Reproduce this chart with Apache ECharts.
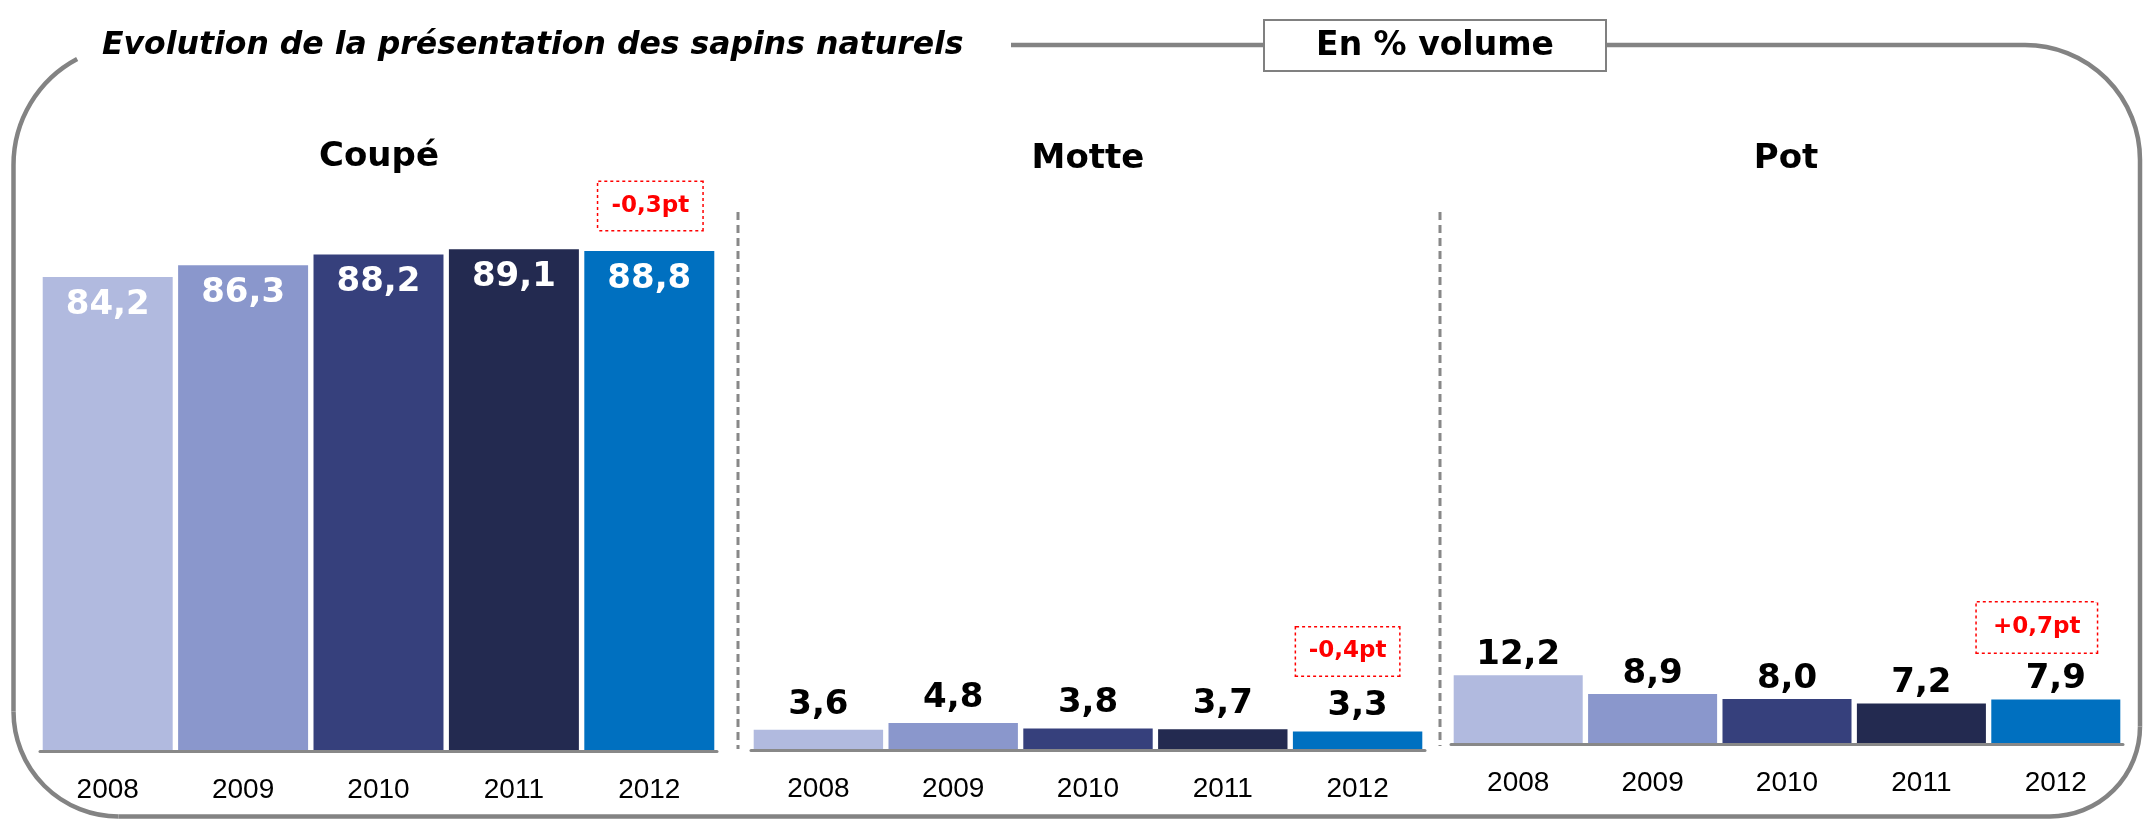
<!DOCTYPE html>
<html><head><meta charset="utf-8">
<script src="https://cdn.jsdelivr.net/npm/echarts@6/dist/echarts.min.js"></script>
<style>html,body{margin:0;padding:0;background:#fff}#c{width:2143px;height:820px}</style>
</head><body><div id="c"></div>
<script>
const years = ['2008', '2009', '2010', '2011', '2012'];
const coupe = [84.2, 86.3, 88.2, 89.1, 88.8];
const motte = [3.6, 4.8, 3.8, 3.7, 3.3];
const pot = [12.2, 8.9, 8.0, 7.2, 7.9];
const panelTitles = ['Coupé', 'Motte', 'Pot'];
const deltas = ['-0,3pt', '-0,4pt', '+0,7pt'];
const mainTitle = 'Evolution de la présentation des sapins naturels';
const unitLabel = 'En % volume';

const yearColors = ['#B1BADF', '#8A97CC', '#36407C', '#232A50', '#0070C0'];
const fmt = v => v.toFixed(1).replace('.', ',');
const FONT = 'DejaVu Sans';

const chart = echarts.init(document.getElementById('c'), null, {renderer: 'canvas'});

const seriesData = [coupe, motte, pot];
const grids = [
  {left: 40, width: 677, top: 188, height: 563},
  {left: 751, width: 674, top: 187, height: 563},
  {left: 1451, width: 672, top: 181, height: 563}
];
const titlePos = [[379, 157], [1088, 159], [1786, 159]];
const labelStyles = [
  {position: 'insideTop', distance: 11, color: '#fff'},
  {position: 'top', distance: 8, color: '#000'},
  {position: 'top', distance: 3, color: '#000'}
];
const deltaBoxes = [
  {w: 104, h: 48, dx: 1, dy: -45},
  {w: 103, h: 48, dx: -10, dy: -80},
  {w: 120, h: 50, dx: -19, dy: -72}
];

const series = seriesData.map((d, i) => ({
  type: 'bar',
  xAxisIndex: i,
  yAxisIndex: i,
  data: d,
  barCategoryGap: '4%',
  itemStyle: {color: p => yearColors[p.dataIndex]},
  label: {
    show: true,
    position: labelStyles[i].position,
    distance: labelStyles[i].distance,
    color: labelStyles[i].color,
    fontSize: 34,
    fontWeight: 'bold',
    fontFamily: FONT,
    formatter: p => fmt(p.value)
  },
  markPoint: {
    symbol: 'rect',
    symbolSize: 1,
    itemStyle: {color: 'transparent'},
    data: [{
      coord: [years.length - 1, d[d.length - 1]],
      label: {
        show: true,
        position: 'inside',
        formatter: deltas[i],
        color: '#FF0000',
        fontSize: 23,
        fontWeight: 'bold',
        fontFamily: FONT,
        width: deltaBoxes[i].w,
        height: deltaBoxes[i].h,
        lineHeight: deltaBoxes[i].h,
        align: 'center',
        verticalAlign: 'middle',
        backgroundColor: '#fff',
        borderColor: '#FF0000',
        borderWidth: 1.5,
        borderType: 'dotted',
        padding: 0,
        offset: [deltaBoxes[i].dx, deltaBoxes[i].dy]
      }
    }]
  }
}));

const FRAME = {stroke: '#838383', lineWidth: 4.5, fill: null};
const D = Math.PI / 180;
const frameParts = [
  {type: 'arc', shape: {cx: 133.5, cy: 165, r: 120, startAngle: 180 * D, endAngle: 242 * D, clockwise: true}},
  {type: 'line', shape: {x1: 13.5, y1: 165, x2: 13.5, y2: 711.5}},
  {type: 'arc', shape: {cx: 118.5, cy: 711.5, r: 105, startAngle: 90 * D, endAngle: 180 * D, clockwise: true}},
  {type: 'line', shape: {x1: 118.5, y1: 816.5, x2: 2050, y2: 816.5}},
  {type: 'arc', shape: {cx: 2050, cy: 726.5, r: 90, startAngle: 0, endAngle: 90 * D, clockwise: true}},
  {type: 'line', shape: {x1: 2140, y1: 160, x2: 2140, y2: 726.5}},
  {type: 'arc', shape: {cx: 2025, cy: 160, r: 115, startAngle: 270 * D, endAngle: 360 * D, clockwise: true}},
  {type: 'line', shape: {x1: 1011, y1: 45, x2: 2025, y2: 45}}
].map(p => Object.assign(p, {z: 0, silent: true, style: FRAME}));

const graphic = frameParts.concat([
  {type: 'rect', z: 1, shape: {x: 1264, y: 20, width: 342, height: 51},
   style: {fill: '#fff', stroke: '#808080', lineWidth: 2}},
  {type: 'text', z: 2, x: 1435, y: 46, style: {text: unitLabel, fill: '#000', fontSize: 33, fontWeight: 'bold',
   fontFamily: FONT, align: 'center', verticalAlign: 'middle', textAlign: 'center', textVerticalAlign: 'middle'}},
  {type: 'text', z: 2, x: 102, y: 46, style: {text: mainTitle, fill: '#000', fontSize: 31.5, fontWeight: 'bold',
   fontStyle: 'italic', fontFamily: FONT, align: 'left', verticalAlign: 'middle', textAlign: 'left', textVerticalAlign: 'middle'}},
  {type: 'line', shape: {x1: 738, y1: 212, x2: 738, y2: 749}, style: {stroke: '#888', lineWidth: 3, lineDash: [8, 5]}},
  {type: 'line', shape: {x1: 1440, y1: 212, x2: 1440, y2: 746}, style: {stroke: '#888', lineWidth: 3, lineDash: [8, 5]}}
]).concat(panelTitles.map((t, i) => ({
  type: 'text', z: 2, x: titlePos[i][0], y: titlePos[i][1],
  style: {text: t, fill: '#000', fontSize: 34, fontWeight: 'bold', fontFamily: FONT,
    align: 'center', verticalAlign: 'middle', textAlign: 'center', textVerticalAlign: 'middle'}
})));

chart.setOption({
  backgroundColor: '#fff',
  animation: false,
  grid: grids,
  xAxis: grids.map((g, i) => ({
    type: 'category',
    gridIndex: i,
    data: years,
    z: 3,
    axisLine: {show: true, lineStyle: {color: '#888', width: 3}},
    axisTick: {show: false},
    axisLabel: {color: '#000', fontSize: 28, fontFamily: 'Liberation Sans', margin: 25}
  })),
  yAxis: grids.map((g, i) => ({
    type: 'value', gridIndex: i, min: 0, max: 100, show: false, splitLine: {show: false}
  })),
  series: series,
  graphic: graphic
});
</script>
</body></html>
